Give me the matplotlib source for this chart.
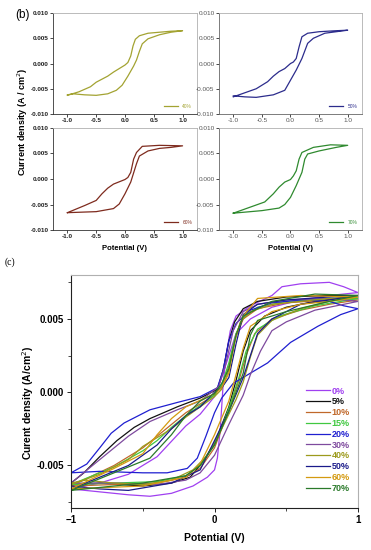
import matplotlib
matplotlib.use("Agg")
import matplotlib.pyplot as plt
from matplotlib.ticker import MultipleLocator

plt.rcParams["font.family"] = ["Liberation Sans", "DejaVu Sans"]

# ---- data: closed CV loops (potential V, current density A/cm2) ----
v40 = [-1.0, -0.9, -0.7, -0.5, -0.3, -0.15, -0.05, 0.05, 0.15, 0.2, 0.25, 0.3, 0.4, 0.6, 0.8, 1.0,
       0.8, 0.6, 0.4, 0.25, 0.18, 0.14, 0.1, 0.05, 0.0, -0.1, -0.2, -0.3, -0.4, -0.5, -0.6, -0.8, -1.0]
j40 = [-0.0062, -0.0060, -0.0062, -0.0063, -0.0060, -0.0053, -0.0043, -0.0025, -0.0005, 0.0007, 0.0024, 0.0039, 0.0049, 0.0057, 0.0062, 0.0065,
       0.0064, 0.0062, 0.0060, 0.0055, 0.0048, 0.0035, 0.0015, 0.0002, -0.0003, -0.0010, -0.0017, -0.0025, -0.0031, -0.0037, -0.0046, -0.0056, -0.0063]

v50 = [-1.0, -0.8, -0.6, -0.3, -0.1, 0.0, 0.1, 0.2, 0.3, 0.4, 0.6, 0.8, 1.0,
       0.8, 0.5, 0.3, 0.2, 0.15, 0.1, 0.05, 0.0, -0.1, -0.2, -0.3, -0.4, -0.6, -0.8, -1.0]
j50 = [-0.0064, -0.0066, -0.0067, -0.0062, -0.0053, -0.0033, -0.0013, 0.0010, 0.0040, 0.0050, 0.0060, 0.0063, 0.0066,
       0.0065, 0.0063, 0.0060, 0.0053, 0.0033, 0.0010, 0.0003, 0.0000, -0.0010, -0.0016, -0.0025, -0.0036, -0.0050, -0.0058, -0.0066]

v60 = [-1.0, -0.5, -0.2, -0.1, 0.0, 0.1, 0.2, 0.25, 0.4, 0.6, 0.8, 1.0,
       0.6, 0.3, 0.2, 0.15, 0.1, 0.05, 0.0, -0.2, -0.3, -0.4, -0.5, -0.7, -1.0]
j60 = [-0.0066, -0.0064, -0.0058, -0.0049, -0.0029, -0.0006, 0.0030, 0.0045, 0.0055, 0.0060, 0.0062, 0.0065,
       0.0066, 0.0064, 0.0052, 0.0039, 0.0013, 0.0003, -0.0001, -0.0010, -0.0018, -0.0029, -0.0042, -0.0052, -0.0066]

v70 = [-1.0, -0.5, -0.2, -0.1, 0.0, 0.1, 0.2, 0.25, 0.3, 0.5, 0.8, 1.0,
       0.7, 0.4, 0.2, 0.15, 0.1, 0.05, 0.0, -0.1, -0.2, -0.3, -0.45, -0.7, -1.0]
j70 = [-0.0067, -0.0062, -0.0057, -0.0050, -0.0036, -0.0013, 0.0013, 0.0039, 0.0049, 0.0055, 0.0062, 0.0066,
       0.0067, 0.0062, 0.0052, 0.0039, 0.0016, 0.0006, -0.0001, -0.0006, -0.0016, -0.0029, -0.0045, -0.0055, -0.0067]

v0 = [-1.0, -0.8, -0.6, -0.45, -0.3, -0.15, -0.05, 0.0, 0.02, 0.04, 0.06, 0.08, 0.11, 0.15, 0.25, 0.4, 0.47, 0.6, 0.8, 0.9, 1.0,
      0.8, 0.6, 0.4, 0.25, 0.15, 0.1, 0.05, 0.0, -0.1, -0.2, -0.4, -0.6, -0.8, -1.0]
j0 = [-0.0066, -0.0068, -0.0070, -0.0071, -0.0069, -0.0064, -0.0058, -0.0053, -0.0045, -0.0025, 0.0005, 0.0025, 0.0042, 0.0052, 0.0059, 0.0066, 0.0072, 0.0074, 0.0075, 0.0072, 0.0068,
      0.0066, 0.0063, 0.0058, 0.0050, 0.0040, 0.0025, 0.0010, -0.0003, -0.0015, -0.0023, -0.0044, -0.0056, -0.0062, -0.0066]

v5 = [-1.0, -0.8, -0.5, -0.3, -0.17, -0.1, 0.0, 0.1, 0.15, 0.2, 0.25, 0.35, 0.5, 0.7, 1.0,
      0.8, 0.5, 0.3, 0.2, 0.14, 0.1, 0.06, 0.02, -0.1, -0.26, -0.45, -0.56, -0.68, -0.8, -0.91, -1.0]
j5 = [-0.0063, -0.0062, -0.0064, -0.0062, -0.0058, -0.0050, -0.0035, -0.0010, 0.0008, 0.0028, 0.0042, 0.0052, 0.0058, 0.0062, 0.0066,
      0.0066, 0.0065, 0.0062, 0.0057, 0.0048, 0.0035, 0.0015, 0.0002, -0.0004, -0.0010, -0.0018, -0.0024, -0.0033, -0.0044, -0.0055, -0.0062]

v10 = [-1.0, -0.7, -0.4, -0.2, -0.1, 0.0, 0.1, 0.17, 0.22, 0.28, 0.4, 0.6, 0.8, 1.0,
       0.8, 0.5, 0.3, 0.2, 0.15, 0.1, 0.05, 0.0, -0.1, -0.2, -0.3, -0.4, -0.5, -0.7, -0.85, -1.0]
j10 = [-0.0064, -0.0063, -0.0062, -0.0058, -0.0052, -0.0038, -0.0012, 0.0008, 0.0025, 0.0040, 0.0050, 0.0056, 0.0060, 0.0063,
       0.0063, 0.0061, 0.0057, 0.0050, 0.0038, 0.0018, 0.0004, -0.0002, -0.0008, -0.0014, -0.0022, -0.0030, -0.0038, -0.0050, -0.0057, -0.0064]

v15 = [-1.0, -0.7, -0.4, -0.2, -0.1, 0.0, 0.1, 0.17, 0.22, 0.3, 0.45, 0.7, 1.0,
       0.8, 0.5, 0.3, 0.2, 0.15, 0.1, 0.05, 0.0, -0.1, -0.2, -0.3, -0.4, -0.5, -0.7, -0.85, -1.0]
j15 = [-0.0063, -0.0062, -0.0061, -0.0057, -0.0050, -0.0036, -0.0011, 0.0010, 0.0028, 0.0043, 0.0052, 0.0059, 0.0064,
       0.0064, 0.0062, 0.0058, 0.0051, 0.0040, 0.0020, 0.0005, -0.0002, -0.0009, -0.0016, -0.0024, -0.0033, -0.0040, -0.0051, -0.0057, -0.0063]

v20 = [-1.0, -0.8, -0.5, -0.33, -0.19, -0.12, -0.06, 0.0, 0.05, 0.13, 0.25, 0.37, 0.53, 0.72, 0.88, 1.0,
       0.9, 0.8, 0.6, 0.4, 0.25, 0.15, 0.1, 0.06, 0.02, -0.1, -0.26, -0.45, -0.63, -0.72, -0.8, -0.89, -1.0]
j20 = [-0.0055, -0.0054, -0.0055, -0.0055, -0.0052, -0.0045, -0.0030, -0.0014, -0.0004, 0.0006, 0.0013, 0.0020, 0.0034, 0.0045, 0.0053, 0.0057,
       0.0059, 0.0062, 0.0063, 0.0061, 0.0056, 0.0047, 0.0035, 0.0015, 0.0003, -0.0003, -0.0007, -0.0012, -0.0021, -0.0028, -0.0038, -0.0049, -0.0055]

v30 = [-1.0, -0.7, -0.4, -0.2, -0.1, 0.0, 0.1, 0.2, 0.25, 0.32, 0.4, 0.5, 0.7, 1.0,
       0.8, 0.5, 0.3, 0.2, 0.13, 0.08, 0.03, -0.1, -0.26, -0.45, -0.6, -0.75, -0.9, -1.0]
j30 = [-0.0062, -0.0062, -0.0063, -0.0060, -0.0055, -0.0043, -0.0022, -0.0002, 0.0012, 0.0028, 0.0042, 0.0048, 0.0056, 0.0062,
       0.0064, 0.0063, 0.0060, 0.0055, 0.0042, 0.0020, 0.0004, -0.0006, -0.0012, -0.0020, -0.0030, -0.0042, -0.0054, -0.0062]

small_labels = ["40%", "50%", "60%", "70%"]
small_colors = ["#a3a332", "#2c2c8c", "#7e2b1e", "#2f8a2f"]

c_labels = ["0%", "5%", "10%", "15%", "20%", "30%", "40%", "50%", "60%", "70%"]
c_colors = ["#a040f0", "#111111", "#c0682a", "#40c840", "#1f1fd0",
            "#7e4a9e", "#9c9a1c", "#1a1a8a", "#d49a10", "#2a7a2a"]
c_v = [v0, v5, v10, v15, v20, v30, v40, v50, v60, v70]
c_j = [j0, j5, j10, j15, j20, j30, j40, j50, j60, j70]

fig = plt.figure(figsize=(3.71, 5.5), dpi=100)

# ---- (b) four small panels ----
pos = [(0.1429, 0.7927, 0.388, 0.1836), (0.5903, 0.7927, 0.3854, 0.1836),
       (0.1429, 0.5818, 0.388, 0.1855), (0.5903, 0.5818, 0.3854, 0.1855)]
small_v = [v40, v50, v60, v70]
small_j = [j40, j50, j60, j70]

for i in range(4):
    ax = fig.add_axes(pos[i])
    ax.set_facecolor("none")
    ax.plot(small_v[i], small_j[i], color=small_colors[i], lw=0.9, label=small_labels[i])
    ax.set_xlim(-1.25, 1.25)
    ax.set_ylim(-0.010, 0.010)
    ax.xaxis.set_major_locator(MultipleLocator(0.5))
    ax.yaxis.set_major_locator(MultipleLocator(0.005))
    ax.xaxis.set_major_formatter(plt.FormatStrFormatter("%.1f"))
    ax.yaxis.set_major_formatter(plt.FormatStrFormatter("%.3f"))
    ax.tick_params(direction="out", length=2, width=0.5, labelsize=4.6, pad=1.2)
    right_col = i % 2 == 1
    for s in ["top", "right"]:
        ax.spines[s].set_color("#b0b0b0")
        ax.spines[s].set_linewidth(0.6)
    for s in ["left", "bottom"]:
        ax.spines[s].set_color("#666666" if right_col else "#333333")
        ax.spines[s].set_linewidth(0.6)
    for lab in ax.get_xticklabels() + ax.get_yticklabels():
        lab.set_fontweight("normal" if right_col else "bold")
        lab.set_color("#555555" if right_col else "#222222")
    ax.legend(loc="lower right", fontsize=3.5, frameon=False, handlelength=3,
              labelcolor="linecolor", borderaxespad=0.6)
    if i >= 2:
        ax.set_xlabel("Potential (V)", fontsize=5.5, fontweight="bold", labelpad=4)

fig.text(0.062, 0.778, "Current density (A / cm$^2$)", rotation=90, fontsize=6.5,
         fontweight="bold", ha="center", va="center")
fig.text(0.040, 0.972, "(b)", fontsize=8.5, ha="left", va="center")
fig.text(0.012, 0.524, "(c)", fontsize=7, family="Liberation Serif", ha="left", va="center")

# ---- (c) all compositions ----
ax = fig.add_axes((0.1914, 0.0764, 0.7736, 0.4236))
for v, j, col, lab in zip(c_v, c_j, c_colors, c_labels):
    ax.plot(v, j, color=col, lw=0.9, label=lab)
ax.set_xlim(-1, 1)
ax.set_ylim(-0.0079, 0.0080)
ax.set_xticks([-1, 0, 1])
ax.xaxis.set_minor_locator(MultipleLocator(0.5))
ax.set_yticks([-0.005, 0.0, 0.005])
ax.yaxis.set_minor_locator(MultipleLocator(0.0025))
ax.yaxis.set_major_formatter(plt.FormatStrFormatter("%.3f"))
ax.tick_params(which="major", direction="out", length=3, width=0.6, labelsize=7, pad=2)
ax.tick_params(which="minor", direction="out", length=2, width=0.5)
for lab in ax.get_xticklabels() + ax.get_yticklabels():
    lab.set_fontweight("bold")
for s in ["top", "right"]:
    ax.spines[s].set_color("#b0b0b0")
    ax.spines[s].set_linewidth(0.8)
for s in ["left", "bottom"]:
    ax.spines[s].set_color("#222222")
    ax.spines[s].set_linewidth(0.8)
ax.set_xlabel("Potential (V)", fontsize=7.5, fontweight="bold", labelpad=6)
fig.text(0.077, 0.268, "Curent density (A/cm$^2$)", rotation=90, fontsize=7.5,
         fontweight="bold", ha="center", va="center")
ax.legend(loc="lower right", frameon=False, handlelength=2.6,
          handletextpad=0.2, labelspacing=0.2, labelcolor="linecolor",
          prop={"weight": "bold", "size": 6.5}, bbox_to_anchor=(1.0, 0.03))

fig.savefig("out.png", dpi=100)
